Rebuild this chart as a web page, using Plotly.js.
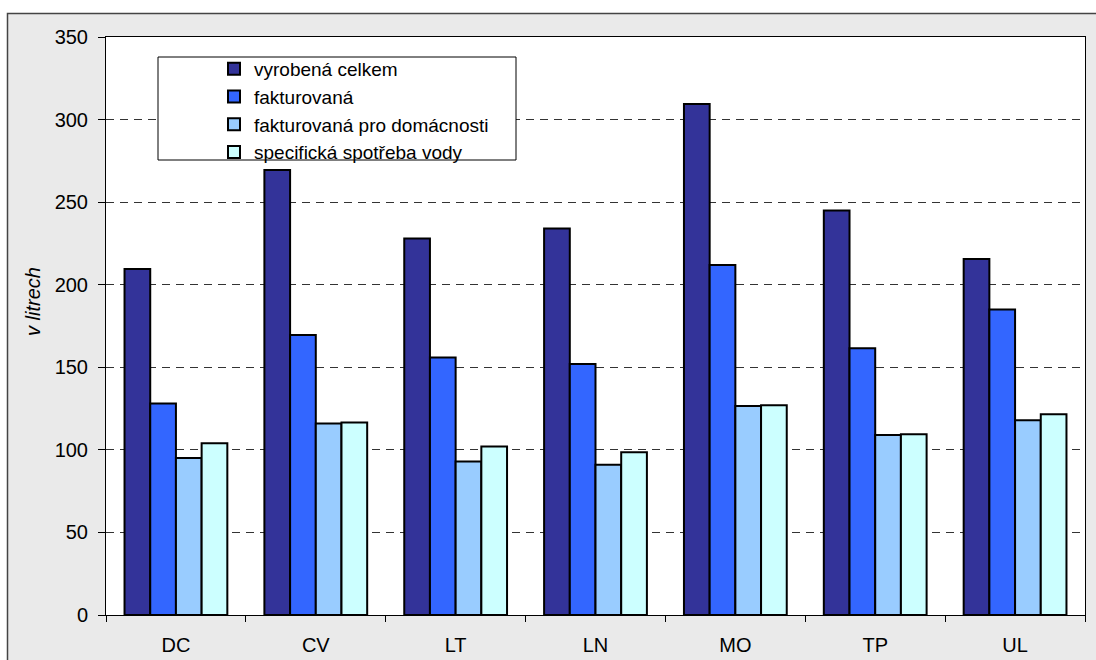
<!DOCTYPE html>
<html>
<head>
<meta charset="utf-8">
<script src="https://cdn.plot.ly/plotly-3.0.1.min.js"></script>
<style>html,body{margin:0;padding:0;background:#fff;}#chart{width:1096px;height:660px;}</style>
</head>
<body>
<div id="chart"></div>
<script>
const categories = ["DC", "CV", "LT", "LN", "MO", "TP", "UL"];
const seriesNames = ["vyrobená celkem", "fakturovaná", "fakturovaná pro domácnosti", "specifická spotřeba vody"];
const vyrobenaCelkem = [209.5, 269.5, 228, 234, 309.5, 245, 215.5];
const fakturovana = [128, 169.5, 156, 152, 212, 161.5, 185];
const fakturovanaDomacnosti = [95, 116, 93, 91, 126.5, 109, 118];
const specifickaSpotreba = [104, 116.5, 102, 98.5, 127, 109.5, 121.5];
const colors = ["#333399", "#3366FF", "#99CCFF", "#CCFFFF"];
const yTicks = [0, 50, 100, 150, 200, 250, 300, 350];

const seriesValues = [vyrobenaCelkem, fakturovana, fakturovanaDomacnosti, specifickaSpotreba];
const traces = seriesValues.map((vals, i) => ({
  type: "bar",
  name: seriesNames[i],
  x: categories,
  y: vals,
  marker: {color: colors[i], line: {color: "#000", width: 2}},
  hoverinfo: "x+y+name"
}));

const W = 1096, H = 660, L = 106, R = 1085, T = 37, B = 615;
const px2x = p => (p - L) / (R - L);
const px2y = p => (B - p) / (B - T);
const font = "Liberation Sans, Arial, sans-serif";

const layout = {
  width: W, height: H,
  margin: {l: L, r: W - R, t: T, b: H - B, pad: 0},
  paper_bgcolor: "#ffffff",
  plot_bgcolor: "rgba(0,0,0,0)",
  font: {family: font, size: 20, color: "#000"},
  barmode: "group",
  bargap: 0.265,
  bargroupgap: 0,
  showlegend: true,
  legend: {
    x: px2x(214), y: px2y(50), xanchor: "left", yanchor: "top",
    bgcolor: "rgba(0,0,0,0)", borderwidth: 0,
    font: {family: font, size: 19, color: "#000"},
    traceorder: "normal"
  },
  xaxis: {
    type: "category",
    showline: true, linecolor: "#000", linewidth: 1, mirror: true,
    ticks: "outside", tickson: "boundaries", ticklen: 6, tickcolor: "#000",
    showgrid: false, zeroline: false,
    tickfont: {family: font, size: 20, color: "#000"},
    ticklabelstandoff: 12
  },
  yaxis: {
    range: [0, 350], tickvals: yTicks, ticktext: yTicks.map(String),
    showline: true, linecolor: "#000", linewidth: 1, mirror: true,
    ticks: "outside", ticklen: 7, tickcolor: "#000",
    showgrid: true, gridcolor: "#333", gridwidth: 1, griddash: "8px,6px",
    zeroline: false,
    tickfont: {family: font, size: 20, color: "#000"},
    ticklabelstandoff: 6
  },
  shapes: [
    {type: "rect", xref: "paper", yref: "paper", layer: "below",
     x0: px2x(7.5), x1: px2x(1110), y0: px2y(700), y1: px2y(13.5),
     fillcolor: "#EAEAEA", line: {color: "#444", width: 1.5}},
    {type: "rect", xref: "paper", yref: "paper", layer: "below",
     x0: 0, x1: 1, y0: 0, y1: 1, fillcolor: "#ffffff", line: {width: 0}},
    {type: "rect", xref: "paper", yref: "paper", layer: "above",
     x0: px2x(158), x1: px2x(516), y0: px2y(160), y1: px2y(57),
     fillcolor: "#ffffff", line: {color: "#000", width: 1}}
  ],
  annotations: [
    {text: "<i>v litrech</i>", xref: "paper", yref: "paper",
     x: px2x(33), y: px2y(302), xanchor: "center", yanchor: "middle",
     textangle: -90, showarrow: false,
     font: {family: font, size: 20, color: "#000"}}
  ]
};

Plotly.newPlot("chart", traces, layout, {displayModeBar: false, staticPlot: true});
</script>
</body>
</html>
